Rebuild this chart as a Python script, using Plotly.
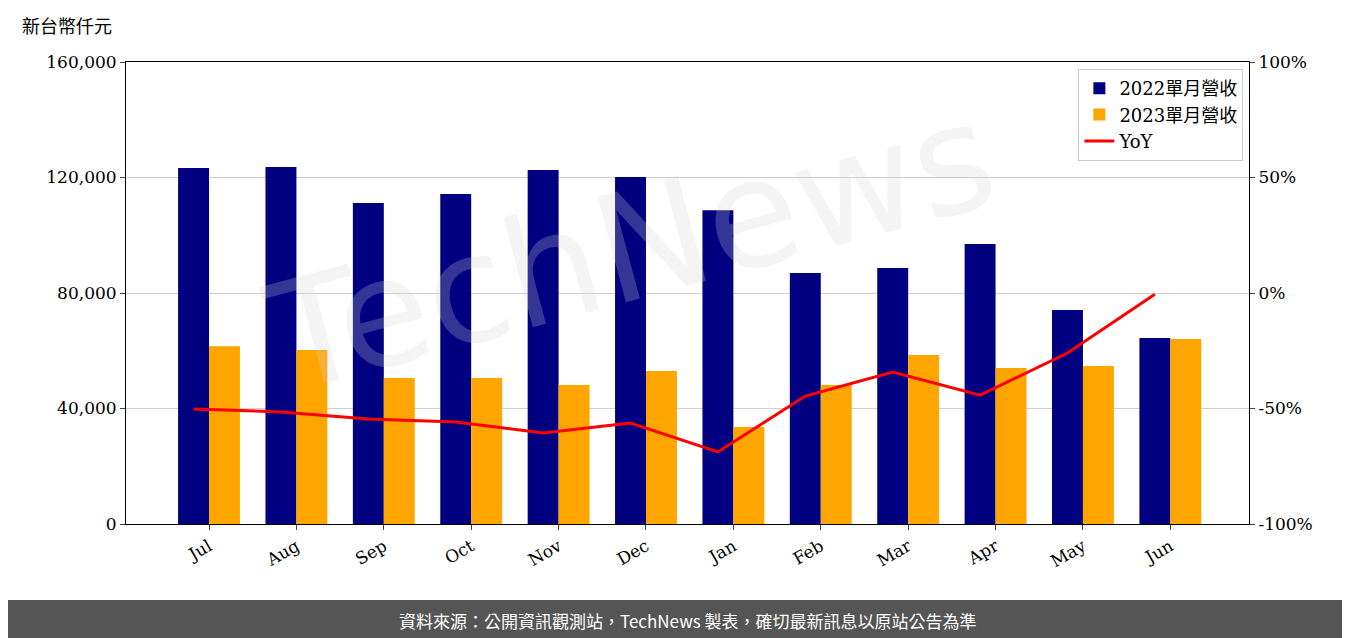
import plotly.graph_objects as go

months = ["Jul","Aug","Sep","Oct","Nov","Dec","Jan","Feb","Mar","Apr","May","Jun"]
rev2022 = [123300,123600,111200,114300,122600,120200,108700,86900,88700,97000,74100,64400]
rev2023 = [61600,60300,50600,50600,48100,53000,33600,48100,58500,54000,54700,64100]
yoy = [-50.2,-51.5,-54.5,-55.8,-60.6,-56.3,-68.8,-44.6,-34.2,-44.2,-26.0,-0.5]

w = 0.354
xs = list(range(len(months)))
font = "DejaVu Serif, Noto Sans CJK TC"
fig = go.Figure()
fig.add_bar(x=[i - w/2 for i in xs], y=rev2022, width=w, marker=dict(color="#000080", line_width=0), name="2022單月營收")
fig.add_bar(x=[i + w/2 for i in xs], y=rev2023, width=w, marker=dict(color="#FFA500", line_width=0), name="2023單月營收")
fig.add_scatter(x=[i - w/2 for i in xs], y=yoy, yaxis="y2", mode="lines", line=dict(color="red", width=3), name="YoY")

fig.update_layout(
    width=1350, height=638, margin=dict(l=118, r=109, t=54, b=122, autoexpand=False),
    plot_bgcolor="white", paper_bgcolor="white", barmode="overlay",
    font=dict(family=font, size=17, color="black"), showlegend=True,
    legend=dict(x=0.995, y=0.985, xanchor="right", yanchor="top", bordercolor="#ccc", borderwidth=1,
                bgcolor="rgba(255,255,255,0.9)", font=dict(size=18)),
    xaxis=dict(range=[-0.95, 11.9], tickvals=xs, ticktext=months, tickangle=-30, showgrid=False, automargin=False,
               showline=True, linecolor="black", mirror=True, ticks="outside", zeroline=False),
    yaxis=dict(range=[0,160000], tickvals=[0,40000,80000,120000,160000], tickformat=",", automargin=False,
               showgrid=True, gridcolor="#d0d0d0", showline=True, linecolor="black", ticks="outside", zeroline=False),
    yaxis2=dict(range=[-100,100], overlaying="y", side="right", tickvals=[-100,-50,0,50,100],
                ticktext=["-100%","-50%","0%","50%","100%"], automargin=False,
                showgrid=False, ticks="outside", showline=True, linecolor="black", zeroline=False),
    annotations=[
        dict(text="新台幣仟元", x=0, y=1, xref="paper", yref="paper", xshift=-106, yshift=22, showarrow=False,
             xanchor="left", yanchor="bottom", font=dict(size=18, family="Noto Sans CJK TC")),
        dict(text="TechNews", x=0.45, y=0.6, xref="paper", yref="paper", showarrow=False, textangle=-15,
             font=dict(size=150, color="rgba(210,210,210,0.25)", family="DejaVu Sans")),
        dict(text="資料來源：公開資訊觀測站，TechNews 製表，確切最新訊息以原站公告為準", x=0.5, y=0, xref="paper", yref="paper",
             yshift=-96, yanchor="middle", showarrow=False, font=dict(size=17, color="white", family="Noto Sans CJK TC")),
    ],
    shapes=[dict(type="rect", xref="paper", yref="paper", x0=-0.3, x1=1.3, y0=-0.1645, y1=-0.3, fillcolor="#555555", line_width=0, layer="below")],
)
fig.write_html("out.html")
